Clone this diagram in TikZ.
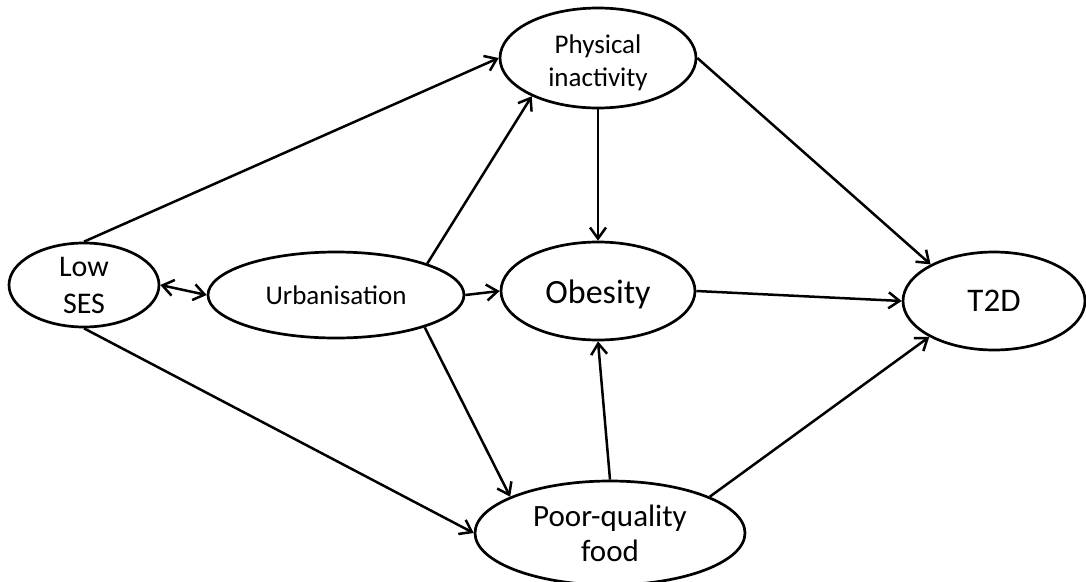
\documentclass[tikz,border=0pt]{standalone}
\usepackage{fontspec}
\setmainfont{Carlito}
\usetikzlibrary{shapes.geometric,arrows.meta}
\tikzset{
  oval/.style={draw=black, line width=2.7pt, ellipse, inner sep=0pt, align=center, fill=white},
  conn/.style={line width=2.5pt, -{Straight Barb[length=11pt,width=16pt,line width=2.5pt]}},
  bothconn/.style={line width=2.5pt, {Straight Barb[length=11pt,width=16pt,line width=2.5pt]}-{Straight Barb[length=11pt,width=16pt,line width=2.5pt]}}
}
\begin{document}
\begin{tikzpicture}[x=1pt,y=-1pt]
\useasboundingbox (0,0) rectangle (1086,581);
\node[oval, minimum width=150pt, minimum height=84pt, font={\fontsize{30}{37}\selectfont}] (low) at (84,285) {Low\\SES};
\node[oval, minimum width=256pt, minimum height=86pt, font={\fontsize{27}{33}\selectfont}] (urb) at (336,295) {Urbanisation};
\node[oval, minimum width=196pt, minimum height=100pt, font={\fontsize{27}{33}\selectfont}] (phys) at (598,58) {\raisebox{-5pt}[\height][\depth]{\begin{tabular}{@{}c@{}}Physical\\inactivity\end{tabular}}};
\node[oval, minimum width=194pt, minimum height=98pt, font={\fontsize{34}{40}\selectfont}] (obes) at (598,291) {\raisebox{-3pt}[\height][\depth]{Obesity}};
\node[oval, minimum width=182pt, minimum height=98pt, font={\fontsize{33}{40}\selectfont}] (t2d) at (994,301) {T2D};
\node[oval, minimum width=270pt, minimum height=104pt, font={\fontsize{31}{35}\selectfont}] (food) at (610,533) {Poor-quality\\food};
\draw[conn] (low.north) -- (phys.west);
\draw[bothconn] (low.east) -- (urb.west);
\draw[conn] (low.south) -- (food.west);
\draw[conn] (urb.19) -- (phys.210);
\draw[conn] (urb.east) -- (obes.west);
\draw[conn] (urb.340) -- (food.160);
\draw[conn] (phys.south) -- (obes.north);
\draw[conn] (phys.east) -- (t2d.150);
\draw[conn] (obes.east) -- (t2d.west);
\draw[conn] (food.north) -- (obes.south);
\draw[conn] (food.20) -- (t2d.209);
\end{tikzpicture}
\end{document}
